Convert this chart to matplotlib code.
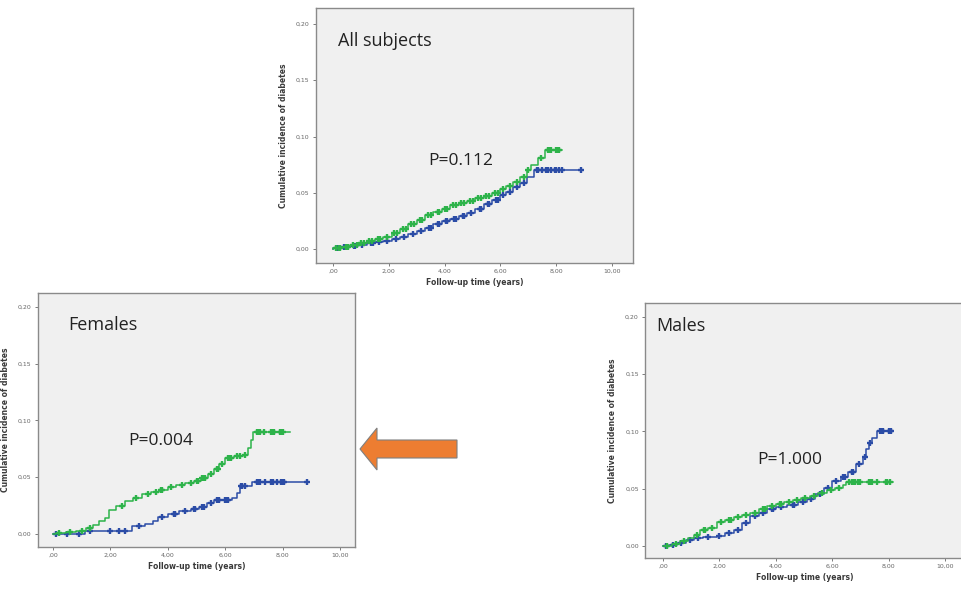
import numpy as np
import matplotlib.pyplot as plt
from matplotlib.patches import Polygon

GREEN = '#2db34a'
BLUE = '#2b4ca6'

# ---- All subjects ----
all_green_t = [0.0, 0.3, 0.6, 0.9, 1.2, 1.5, 1.8, 2.1, 2.4, 2.7, 3.0, 3.3, 3.6, 3.9, 4.2,
               4.5, 4.8, 5.1, 5.4, 5.7, 6.0, 6.2, 6.45, 6.7, 6.95, 7.1, 7.35, 7.6]
all_green_v = [0.001, 0.002, 0.004, 0.005, 0.007, 0.009, 0.011, 0.014, 0.018, 0.022, 0.026,
               0.030, 0.033, 0.036, 0.039, 0.041, 0.043, 0.045, 0.047, 0.050, 0.053, 0.056,
               0.060, 0.064, 0.070, 0.075, 0.081, 0.088]
all_green_end = 8.2
all_green_cens = [0.1, 0.2, 0.25, 0.45, 0.55, 0.7, 0.85, 1.0, 1.1, 1.3, 1.4, 1.6, 1.7, 1.95,
                  2.2, 2.3, 2.5, 2.6, 2.8, 2.9, 3.1, 3.2, 3.4, 3.5, 3.75, 3.8, 4.0, 4.1, 4.3,
                  4.4, 4.6, 4.7, 4.9, 5.0, 5.2, 5.3, 5.5, 5.6, 5.8, 5.9, 6.1, 6.35, 6.6,
                  6.85, 7.0, 7.45, 7.7, 7.75, 7.8, 8.0, 8.05, 8.1]
all_blue_t = [0.0, 0.3, 0.6, 0.9, 1.2, 1.5, 1.8, 2.1, 2.4, 2.7, 3.0, 3.3, 3.6, 3.9, 4.2,
              4.5, 4.8, 5.1, 5.4, 5.7, 6.0, 6.2, 6.45, 6.7, 6.95, 7.2]
all_blue_v = [0.001, 0.002, 0.003, 0.004, 0.005, 0.006, 0.007, 0.009, 0.011, 0.013, 0.016,
              0.019, 0.022, 0.025, 0.027, 0.029, 0.032, 0.036, 0.040, 0.044, 0.048, 0.051,
              0.055, 0.059, 0.064, 0.070]
all_blue_end = 8.9
all_blue_cens = [0.15, 0.4, 0.5, 0.75, 0.8, 1.05, 1.35, 1.45, 1.65, 1.95, 2.25, 2.55, 2.85,
                 3.15, 3.45, 3.5, 3.75, 3.8, 4.05, 4.1, 4.35, 4.4, 4.65, 4.7, 4.95, 5.25,
                 5.3, 5.55, 5.6, 5.85, 5.9, 6.1, 6.35, 6.6, 6.85, 7.3, 7.35, 7.5, 7.65,
                 7.7, 7.8, 7.95, 8.0, 8.1, 8.2, 8.9]

# ---- Females ----
fem_green_t = [0.1, 0.45, 0.8, 1.15, 1.4, 1.6, 1.8, 1.97, 2.2, 2.5, 2.8, 3.1, 3.4, 3.7,
               4.0, 4.3, 4.6, 4.9, 5.15, 5.4, 5.6, 5.8, 6.0, 6.3, 6.62, 6.8, 6.9, 6.97]
fem_green_v = [0.001, 0.002, 0.003, 0.005, 0.008, 0.011, 0.014, 0.021, 0.025, 0.029, 0.032,
               0.035, 0.037, 0.039, 0.041, 0.043, 0.045, 0.047, 0.049, 0.053, 0.057, 0.062,
               0.067, 0.069, 0.070, 0.076, 0.083, 0.090]
fem_green_end = 8.26
fem_green_cens = [0.2, 0.6, 1.0, 1.3, 2.4, 2.9, 3.3, 3.6, 3.75, 3.8, 4.1, 4.5, 4.8, 5.0,
                  5.05, 5.2, 5.25, 5.3, 5.5, 5.7, 5.75, 5.9, 6.1, 6.15, 6.2, 6.4, 6.5,
                  6.7, 7.1, 7.15, 7.2, 7.35, 7.6, 7.65, 7.7, 7.9, 7.95, 8.0]
fem_blue_t = [1.1, 2.75, 3.2, 3.5, 3.65, 4.0, 4.4, 4.8, 5.1, 5.35, 5.6, 6.25, 6.4, 6.52, 6.95]
fem_blue_v = [0.003, 0.007, 0.009, 0.011, 0.015, 0.018, 0.020, 0.022, 0.024, 0.027, 0.030,
              0.032, 0.036, 0.042, 0.046]
fem_blue_end = 8.84
fem_blue_cens = [0.1, 0.5, 0.9, 1.3, 2.0, 2.3, 2.5, 3.0, 3.8, 4.2, 4.25, 4.6, 4.9, 4.95,
                 5.2, 5.25, 5.5, 5.7, 5.75, 5.8, 6.0, 6.05, 6.1, 6.55, 6.6, 6.7, 7.1,
                 7.15, 7.2, 7.4, 7.6, 7.65, 7.8, 7.95, 8.0, 8.05, 8.84]

# ---- Males ----
mal_green_t = [0.3, 0.6, 0.9, 1.1, 1.3, 1.6, 1.9, 2.2, 2.5, 2.8, 3.1, 3.4, 3.7, 4.0, 4.3,
               4.6, 4.9, 5.2, 5.5, 5.8, 6.1, 6.4, 6.5]
mal_green_v = [0.002, 0.004, 0.007, 0.010, 0.014, 0.016, 0.021, 0.023, 0.025, 0.027, 0.029,
               0.032, 0.035, 0.037, 0.038, 0.040, 0.042, 0.044, 0.046, 0.049, 0.051, 0.053,
               0.056]
mal_green_end = 8.16
mal_green_cens = [0.15, 0.45, 0.75, 1.2, 1.45, 1.5, 1.75, 2.05, 2.35, 2.4, 2.65, 2.95,
                  3.25, 3.55, 3.6, 3.85, 4.15, 4.2, 4.45, 4.75, 5.05, 5.35, 5.65, 5.95,
                  6.25, 6.6, 6.7, 6.75, 6.8, 6.9, 7.0, 7.3, 7.35, 7.4, 7.6, 7.9, 7.95, 8.05]
mal_blue_t = [0.2, 0.5, 0.8, 1.1, 1.4, 1.9, 2.2, 2.5, 2.8, 3.1, 3.4, 3.7, 4.0, 4.4, 4.8, 5.1,
              5.4, 5.7, 6.0, 6.3, 6.55, 6.85, 7.1, 7.2, 7.3, 7.42, 7.58]
mal_blue_v = [0.001, 0.003, 0.005, 0.007, 0.008, 0.009, 0.011, 0.014, 0.020, 0.026, 0.029,
              0.032, 0.034, 0.036, 0.038, 0.041, 0.045, 0.051, 0.057, 0.060, 0.065, 0.072,
              0.078, 0.085, 0.090, 0.094, 0.100]
mal_blue_end = 8.16
mal_blue_cens = [0.1, 0.35, 0.65, 0.95, 1.25, 1.6, 2.0, 2.35, 2.65, 2.95, 3.25, 3.55, 3.85,
                 3.9, 4.2, 4.6, 4.65, 4.95, 5.25, 5.55, 5.85, 6.15, 6.4, 6.45, 6.7, 6.75,
                 6.95, 7.15, 7.35, 7.7, 7.75, 7.8, 8.0, 8.05, 8.1]

x_ticks = [0, 2, 4, 6, 8, 10]
x_tick_labels = [',00', '2,00', '4,00', '6,00', '8,00', '10,00']
y_ticks = [0, 0.05, 0.10, 0.15, 0.20]
y_tick_labels = ['0,00', '0,05', '0,10', '0,15', '0,20']


def draw_curve(ax, t, v, end, cens, color):
    tt = np.concatenate([[0.0], t, [end]])
    vv = np.concatenate([[0.0], v, [v[-1]]])
    ax.step(tt, vv, where='post', color=color, lw=1.1)
    c = np.asarray(cens)
    idx = np.searchsorted(tt, c, side='right') - 1
    ax.plot(c, vv[idx], '+', color=color, ms=4.5, mew=1.7)


def setup(ax, xlim, ylim, title, tx, ty, ptext, px, py):
    ax.set_facecolor('#f0f0f0')
    ax.set_xlim(*xlim)
    ax.set_ylim(*ylim)
    ax.set_xticks(x_ticks)
    ax.set_xticklabels(x_tick_labels)
    ax.set_yticks(y_ticks)
    ax.set_yticklabels(y_tick_labels)
    ax.tick_params(labelsize=4.5, length=2.5, width=0.6, colors='#666666', pad=2)
    for s in ax.spines.values():
        s.set_color('#8a8a8a')
        s.set_linewidth(1.0)
    ax.set_xlabel('Follow-up time (years)', fontsize=5.5, fontweight='bold',
                  color='#3a3a3a', labelpad=3)
    ax.set_ylabel('Cumulative incidence of diabetes', fontsize=5.5, fontweight='bold',
                  color='#3a3a3a', labelpad=6)
    ax.text(tx, ty, title, fontsize=13, family='Open Sans', va='center', color='#222222')
    ax.text(px, py, ptext, fontsize=12.5, family='Open Sans', va='center', color='#222222')


fig = plt.figure(figsize=(9.61, 5.90), dpi=100)

ax_all = fig.add_axes([316 / 961, 1 - 263 / 590, 317 / 961, 255 / 590])
setup(ax_all, (-0.61, 10.75), (-0.0124, 0.2142), 'All subjects', 0.18, 0.185,
      'P=0.112', 3.4, 0.0778)
draw_curve(ax_all, all_blue_t, all_blue_v, all_blue_end, all_blue_cens, BLUE)
draw_curve(ax_all, all_green_t, all_green_v, all_green_end, all_green_cens, GREEN)

ax_fem = fig.add_axes([38 / 961, 1 - 547 / 590, 317 / 961, 254 / 590])
setup(ax_fem, (-0.52, 10.52), (-0.0115, 0.2123), 'Females', 0.52, 0.184,
      'P=0.004', 2.61, 0.0815)
draw_curve(ax_fem, fem_blue_t, fem_blue_v, fem_blue_end, fem_blue_cens, BLUE)
draw_curve(ax_fem, fem_green_t, fem_green_v, fem_green_end, fem_green_cens, GREEN)

ax_mal = fig.add_axes([645 / 961, 1 - 558 / 590, 320 / 961, 255 / 590])
setup(ax_mal, (-0.64, 10.71), (-0.0105, 0.2122), 'Males', -0.25, 0.1917,
      'P=1.000', 3.33, 0.075)
draw_curve(ax_mal, mal_blue_t, mal_blue_v, mal_blue_end, mal_blue_cens, BLUE)
draw_curve(ax_mal, mal_green_t, mal_green_v, mal_green_end, mal_green_cens, GREEN)

# orange arrow pointing at the Females panel
arrow_px = [(360, 449), (377, 428), (377, 440), (457, 440), (457, 458), (377, 458), (377, 470)]
arrow = Polygon([(x / 961, 1 - y / 590) for x, y in arrow_px], closed=True,
                transform=fig.transFigure, facecolor='#ed7d31', edgecolor='#7f7f7f', lw=0.8)
fig.patches.append(arrow)

fig.savefig('out.png', dpi=100, facecolor='white')
